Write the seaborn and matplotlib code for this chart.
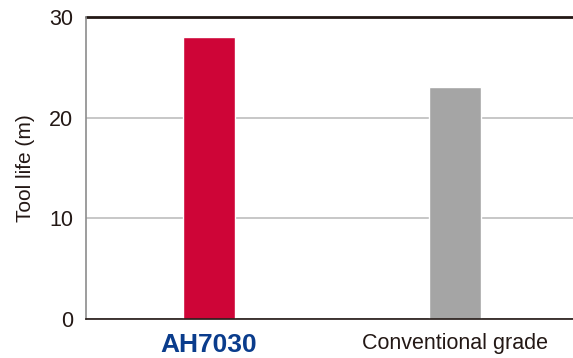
import pandas as pd
import seaborn as sns
import matplotlib.pyplot as plt

# data
grades = ['AH7030', 'Conventional grade']
tool_life = [28, 23]
bar_colors = ['#CE0537', '#A5A5A5']

df = pd.DataFrame({'grade': grades, 'life': tool_life})

sns.set_style('white')
plt.rcParams['font.family'] = ['Liberation Sans', 'DejaVu Sans']

fig = plt.figure(figsize=(5.73, 3.58), dpi=100)
ax = fig.add_axes([0.150, 0.109, 0.850, 0.8435])

sns.barplot(data=df, x='grade', y='life', hue='grade', palette=bar_colors,
            width=0.21, legend=False, saturation=1, ax=ax)

ax.set_xlim(-0.5, 1.48)
ax.set_ylim(0, 30)
ax.set_yticks([0, 10, 20, 30])
ax.yaxis.grid(True, color='#BDBDBD', linewidth=1.2)
ax.set_axisbelow(True)

# top line at 30
ax.axhline(30, color='#231815', linewidth=2, clip_on=False)

for side in ['top', 'right']:
    ax.spines[side].set_visible(False)
ax.spines['left'].set_color('#8C8C8C')
ax.spines['left'].set_linewidth(1.2)
ax.spines['bottom'].set_color('#231815')
ax.spines['bottom'].set_linewidth(1.2)

ax.tick_params(axis='both', length=0, labelsize=15.5, colors='#231815')
ax.tick_params(axis='y', pad=9)
ax.tick_params(axis='x', pad=10)
ax.set_xlabel('')
ax.set_ylabel('Tool life (m)', fontsize=15, color='#231815', labelpad=10)

lbls = ax.get_xticklabels()
lbls[0].set_color('#0A3C8C')
lbls[0].set_fontweight('bold')
lbls[0].set_fontsize(19)

plt.savefig('out.png', dpi=100)
